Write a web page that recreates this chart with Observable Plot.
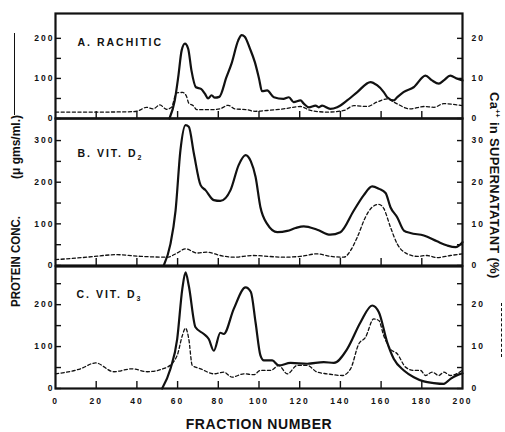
<!DOCTYPE html>
<html><head><meta charset="utf-8">
<script src="https://cdn.jsdelivr.net/npm/d3@7"></script>
<script src="https://cdn.jsdelivr.net/npm/@observablehq/plot@0.6"></script>
<style>
body{margin:0;background:#fff;}
#chart{position:relative;width:505px;height:432px;overflow:hidden;font-family:"Liberation Sans",Arial,sans-serif;font-weight:bold;color:#111;}
.panel{position:absolute;left:0;}
</style></head><body><div id="chart"></div>
<script>
// ---------- data: [fraction number, value] ----------
// protein concentration (µg/ml) — solid curves
const rachiticProtein = [[56,0],[58.6,45],[60.3,103],[62,170],[63.6,187],[65.2,174],[66.8,120],[69,78],[71.5,74],[73.4,62],[75,50],[76.7,58],[78.3,52],[80.5,54],[84,103],[86.5,137],[89.8,195],[91.5,208],[93,204],[95.5,175],[98,140],[100,100],[101.5,68],[104,70],[107.3,53],[112,49],[114.7,53],[117,41],[120.4,45],[122,37],[124.5,28],[127.8,32],[129.4,28],[131,32],[135,24],[138.4,28],[143.3,45],[148.3,66],[154.8,91],[158,83],[161.3,66],[163,53],[166.2,45],[167.9,53],[171,66],[176,78],[181.8,107],[185,95],[188.4,87],[190.8,95],[194,107],[197.4,99],[200,95]];
const vitD2Protein = [[53.2,0],[56.5,52],[59,132],[61.4,277],[63.9,337],[65.5,333],[68,269],[71.3,193],[73.7,181],[77.8,157],[81,155],[86,181],[90,241],[93.4,265],[96,250],[98.3,213],[100.7,140],[104,100],[109,80],[113.9,83],[118,90],[122,94],[128.6,86],[135,74],[140,80],[146.6,132],[151.5,169],[155.6,190],[159,184],[162.2,174],[164.6,140],[167.9,116],[171.2,84],[174.4,78],[181,72],[187.5,58],[192.5,48],[196.6,44],[200,56]];
const vitD3Protein = [[52.4,0],[56.5,47],[59.8,118],[62.3,237],[63.9,277],[65.5,245],[68.8,146],[72.9,130],[75.3,118],[77.8,90],[81,133],[82.7,130],[87.6,190],[93.4,241],[96,230],[98.3,158],[100.7,79],[102.4,67],[106.5,67],[109.7,55],[115.5,61],[123.7,59],[131.8,63],[136.8,61],[143.3,94],[149.9,158],[155.6,198],[158.9,182],[163,110],[166.2,71],[171.2,43],[176.1,27],[181,17],[185.9,13],[190.8,11],[194.1,23],[199,35],[200,36]];
// Ca++ in supernatant (%) — dashed curves
const rachiticCa = [[0,1.6],[20,1.6],[38,1.7],[41,2.0],[44.7,2.8],[48,2.4],[51.3,3.4],[54.5,2.3],[57,2.8],[59.5,6.4],[62.5,6.5],[64.4,5.5],[65.5,3.8],[67.7,3.2],[69.5,2.2],[75.8,2.2],[80.7,2.4],[84.9,3.3],[88.1,2.4],[94,2.2],[98,1.8],[104,2.0],[112,2.4],[120.4,3.0],[125.3,2.0],[133.5,1.6],[141.7,2.0],[146.6,3.2],[153.2,3.0],[158,4.1],[163,4.9],[166.2,4.1],[174.4,2.4],[181,3.0],[186,2.8],[190.8,3.7],[200,3.2]];
const vitD2Ca = [[0,1.4],[15.6,2.0],[30.3,2.6],[41.8,2.2],[54.9,2.0],[59.8,3.0],[63.9,4.0],[69.6,3.0],[74.5,3.2],[81,2.4],[87.6,2.0],[97,2.4],[112,2.0],[120.4,2.2],[128.6,2.8],[135,2.2],[141.7,2.0],[145,3.6],[148.3,6.8],[152.3,11.6],[155.6,14.0],[158.9,14.7],[161.3,13.7],[164.6,9.2],[167.9,5.2],[172.8,2.8],[177.7,2.2],[182.6,2.4],[187.5,1.9],[194,2.4],[200,2.8]];
const vitD3Ca = [[0,3.5],[12.3,4.7],[19.7,6.1],[28.6,4.0],[37.7,4.7],[45,4.0],[54.9,5.1],[59.8,7.9],[62.3,12.6],[63.9,14.4],[65.5,11.8],[67.2,5.5],[71.3,4.7],[77.8,3.5],[82.7,3.9],[86.8,2.7],[92.5,3.5],[97.5,3.3],[100.7,4.3],[105.7,4.3],[109.7,5.5],[113.9,3.5],[118.8,5.5],[123.7,5.5],[128.6,3.9],[133.5,3.5],[140.9,3.1],[145,4.7],[149,10.6],[152.3,12.2],[156.4,16.6],[158.9,16.2],[161.3,12.6],[164.6,9.4],[167.9,8.3],[172,5.1],[176.1,4.3],[179.4,4.3],[181.8,3.1],[185.1,3.9],[188.4,3.1],[190.8,3.9],[194.1,3.1],[199.8,4.3]];

// ---------- tick values & labels ----------
const panelTitles = ["A. RACHITIC", "B. VIT. D\u2082", "C. VIT. D\u2083"];
const xTickLabels = [0,20,40,60,80,100,120,140,160,180,200];
const xInnerTicks = [20,40,60,80,100,120,140,160,180];
const leftTicksA = [0,50,100,150,200], leftLabelsA = [0,100,200];
const leftTicksB = [0,50,100,150,200,250,300], leftLabelsB = [0,100,200,300];
const leftTicksC = [0,50,100,150,200,250], leftLabelsC = [0,100,200];
const rightTicksA = [0,5,10,15,20], rightLabelsA = [0,10,20];
const rightTicksB = [0,5,10,15,20,25,30], rightLabelsB = [0,10,20,30];
const rightTicksC = [0,5,10,15,20,25], rightLabelsC = [0,10,20];
const xLabel = "FRACTION NUMBER";
const CA = 10; // 1 % Ca++ drawn at 10 µg/ml on the shared panel scale
const subDigits = {"\u2082":"2", "\u2083":"3"};

function makePanel(cfg) {
  const marks = [
    Plot.axisX({anchor:"bottom", ticks:xInnerTicks, tickSize:-7, tickFormat:() => "", strokeWidth:1.4, label:null}),
    Plot.axisY({anchor:"left", ticks:cfg.leftTicks, tickSize:-6, tickFormat:() => "", strokeWidth:1.4, label:null}),
    Plot.axisY({anchor:"left", ticks:cfg.leftLabels, tickSize:0, tickPadding:1, fontSize:8.5, fontWeight:"bold", label:null}),
    Plot.axisY({anchor:"right", ticks:cfg.rightTicks.map(d => d*CA), tickSize:-6, tickFormat:() => "", strokeWidth:1.4, label:null}),
    Plot.axisY({anchor:"right", ticks:cfg.rightLabels.map(d => d*CA), tickSize:0, tickPadding:9, tickFormat:d => String(d/CA), fontSize:8.5, fontWeight:"bold", label:null}),
    Plot.line(cfg.ca, {x:d => d[0], y:d => d[1]*CA, stroke:"#111", strokeWidth:1.3, strokeDasharray:"3.2,2.4", curve:"monotone-x"}),
    Plot.line(cfg.protein, {x:d => d[0], y:d => d[1], stroke:"#111", strokeWidth:2.2, curve:"monotone-x"}),
    Plot.text([cfg.title], {frameAnchor:"top-left", dx:cfg.titleDx, dy:cfg.titleDy, textAnchor:"start", lineAnchor:"middle", fontSize:10.5, fontWeight:"bold"}),
    Plot.frame({stroke:"#111", strokeWidth:2.2})
  ];
  if (cfg.showX) marks.push(Plot.axisX({anchor:"bottom", ticks:xTickLabels, tickSize:0, tickPadding:9, fontSize:8.5, fontWeight:"bold", label:null}));
  const svg = Plot.plot({
    width:505, height:cfg.height,
    marginLeft:55, marginRight:43, marginTop:cfg.marginTop, marginBottom:cfg.marginBottom,
    x:{domain:[0,200]}, y:{domain:[0,cfg.yMax]},
    style:{background:"transparent", overflow:"visible", color:"#111", fontFamily:"'Liberation Sans', Arial, sans-serif", letterSpacing:"2px"},
    marks
  });
  // render subscript digits of the panel title as lowered small text
  d3.select(svg).selectAll("text").each(function() {
    const t = this.textContent;
    const last = t.slice(-1);
    if (subDigits[last]) {
      this.textContent = t.slice(0, -1);
      d3.select(this).append("tspan").attr("dy", "3").attr("font-size", "7").text(subDigits[last]);
    }
  });
  const wrap = document.createElement("div");
  wrap.className = "panel";
  wrap.style.top = cfg.top + "px";
  wrap.appendChild(svg);
  return wrap;
}

const chart = document.getElementById("chart");
chart.appendChild(makePanel({title:panelTitles[0], protein:rachiticProtein, ca:rachiticCa, yMax:262,
  leftTicks:leftTicksA, leftLabels:leftLabelsA, rightTicks:rightTicksA, rightLabels:rightLabelsA,
  top:0, height:130, marginTop:13, marginBottom:12, titleDx:22, titleDy:29}));
chart.appendChild(makePanel({title:panelTitles[1], protein:vitD2Protein, ca:vitD2Ca, yMax:353,
  leftTicks:leftTicksB, leftLabels:leftLabelsB, rightTicks:rightTicksB, rightLabels:rightLabelsB,
  top:108, height:169, marginTop:10, marginBottom:12, titleDx:22, titleDy:35}));
chart.appendChild(makePanel({title:panelTitles[2], protein:vitD3Protein, ca:vitD3Ca, yMax:291,
  leftTicks:leftTicksC, leftLabels:leftLabelsC, rightTicks:rightTicksC, rightLabels:rightLabelsC,
  top:255, height:177, marginTop:11, marginBottom:44, titleDx:21, titleDy:28, showX:true}));

// axis titles and line-style keys (HTML text)
function addDiv(html, css) {
  const d = document.createElement("div");
  d.innerHTML = html;
  Object.assign(d.style, css);
  chart.appendChild(d);
  return d;
}
addDiv(xLabel, {position:"absolute", left:"0px", width:"518px", top:"417px", textAlign:"center", fontSize:"14px", letterSpacing:"0.6px", lineHeight:"14px"});
// left title: rotated -90°, reading bottom to top
addDiv("PROTEIN CONC.", {position:"absolute", left:"9px", top:"307px", fontSize:"13px", whiteSpace:"nowrap", lineHeight:"13px", transformOrigin:"0 0", transform:"rotate(-90deg) scale(0.88,1)"});
addDiv("(\u03bc gms/ml.)", {position:"absolute", left:"10px", top:"179px", fontSize:"12px", whiteSpace:"nowrap", lineHeight:"12px", transformOrigin:"0 0", transform:"rotate(-90deg)"});
addDiv("", {position:"absolute", left:"14px", top:"33px", width:"0px", height:"82px", borderLeft:"1.6px solid #111"});
// right title: rotated +90°, reading top to bottom
addDiv("Ca<sup style='font-size:7px;vertical-align:5px'>++</sup> in SUPERNATATANT (%)", {position:"absolute", left:"504px", top:"92px", fontSize:"13px", letterSpacing:"0.3px", whiteSpace:"nowrap", lineHeight:"13px", transformOrigin:"0 0", transform:"rotate(90deg)"});
addDiv("", {position:"absolute", left:"501px", top:"303px", width:"0px", height:"54px", borderLeft:"1.3px dashed #111"});
</script></body></html>
